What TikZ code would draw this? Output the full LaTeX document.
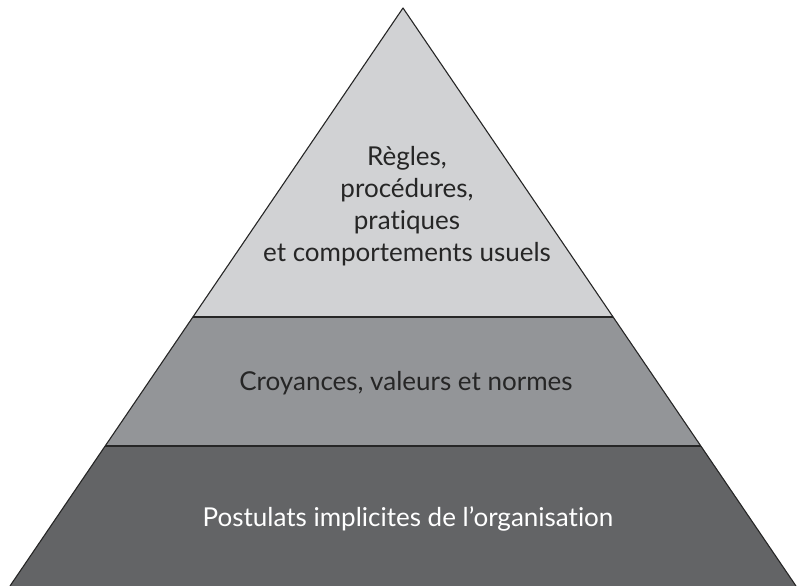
\documentclass[tikz,border=0pt]{standalone}
\usepackage{fontspec}
\setmainfont[Ligatures={NoCommon}]{Lato}
\begin{document}
\begin{tikzpicture}[x=1pt,y=1pt,
  layer/.style={draw=black!85, line width=1.1pt, line join=round},
  lbl/.style={align=center, font=\fontsize{26}{32}\selectfont, inner sep=0pt}]
\definecolor{topc}{HTML}{D1D2D4}
\definecolor{midc}{HTML}{939598}
\definecolor{botc}{HTML}{636466}
\useasboundingbox (0,0) rectangle (798,586);
\coordinate (A) at (403,578);
\coordinate (L1) at (193,269);
\coordinate (R1) at (613,269);
\coordinate (L2) at (105,140);
\coordinate (R2) at (701,140);
\coordinate (L3) at (10,0);
\coordinate (R3) at (796,0);
\fill[botc] (L2) -- (R2) -- (R3) -- (L3) -- cycle;
\fill[midc] (L1) -- (R1) -- (R2) -- (L2) -- cycle;
\fill[topc] (A) -- (R1) -- (L1) -- cycle;
\draw[layer] (L3) -- (A) -- (R3);
\draw[layer] (L1) -- (R1);
\draw[layer] (L2) -- (R2);
\node[lbl, text=black!85] (t1) at (407,380) {Règles,\\procédures,\\pratiques\\et comportements usuels};
\node[lbl, text=black!85] (t2) at (406,203) {Croyances, valeurs et normes};
\node[lbl, text=white] (t3) at (408,67) {Postulats implicites de l’organisation};
\end{tikzpicture}
\end{document}
